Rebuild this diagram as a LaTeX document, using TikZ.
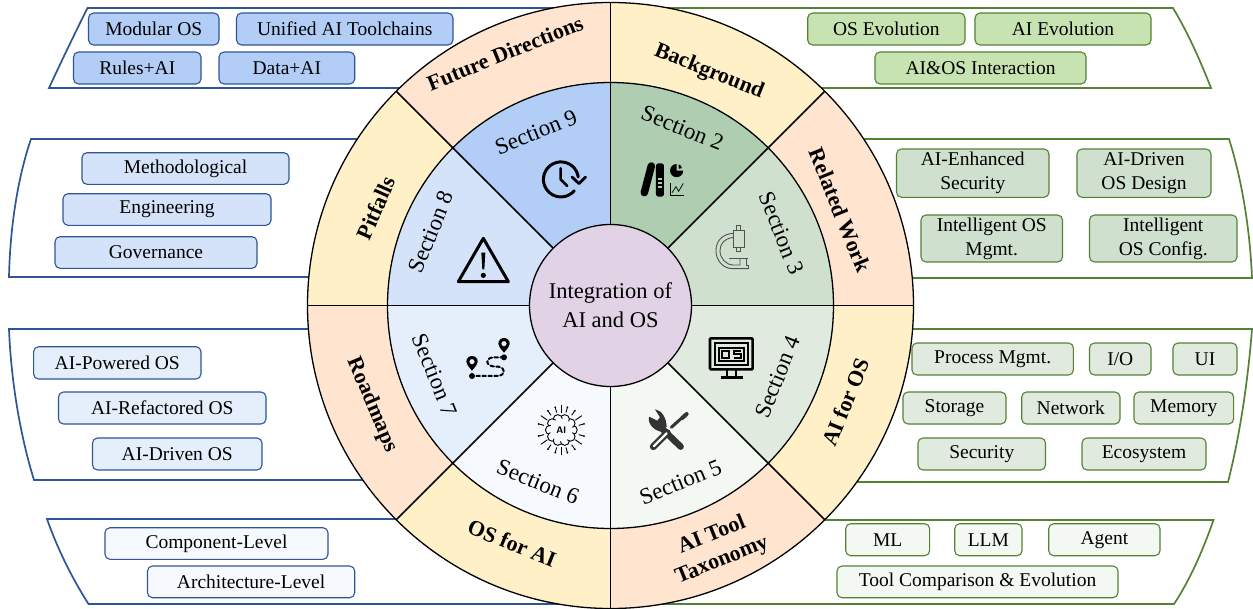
\documentclass[tikz,border=0pt]{standalone}
\usepackage{fontspec}
\setmainfont{Liberation Serif}
\usetikzlibrary{calc}
\definecolor{pb}{HTML}{2F5597}
\definecolor{pg}{HTML}{548235}
\definecolor{peach}{HTML}{FFE5CF}
\definecolor{butter}{HTML}{FFF0C8}
\definecolor{hub}{HTML}{E2D2E6}
\definecolor{bA}{HTML}{B2CEF6}
\definecolor{bB}{HTML}{D5E3FA}
\definecolor{bC}{HTML}{E5EFFC}
\definecolor{bD}{HTML}{F6FAFE}
\definecolor{gS}{HTML}{AFCDB0}
\definecolor{gA}{HTML}{C8E3B2}
\definecolor{gB}{HTML}{D0E0CF}
\definecolor{gC}{HTML}{E1EADF}
\definecolor{gD}{HTML}{F3F8F3}
\definecolor{icon}{HTML}{333333}
\tikzset{
  panelB/.style={draw=pb,fill=white,line width=1.7pt,line join=miter},
  panelG/.style={draw=pg,fill=white,line width=1.7pt,line join=miter},
  itemB/.style={draw=pb,rounded corners=5pt,line width=1.1pt,inner sep=0pt,align=center,text=black,font=\fontsize{19.5}{24}\selectfont},
  itemG/.style={draw=pg,rounded corners=5pt,line width=1.1pt,inner sep=0pt,align=center,text=black,font=\fontsize{19.5}{24}\selectfont},
  sec/.style={inner sep=0pt,font=\fontsize{23}{26}\selectfont},
  ring/.style={inner sep=0pt,align=center,font=\fontsize{22}{27}\selectfont\bfseries},
  spoke/.style={draw=black,line width=1.5pt},
  rim/.style={draw=black,line width=1.3pt},
  ic/.style={draw=black,line width=3pt,line cap=round,line join=round},
}
\newcommand{\bx}[7]{%
  \pgfmathsetmacro\bxw{#5-#3}\pgfmathsetmacro\bxh{#6-#4}%
  \node[#1,minimum width=\bxw pt,minimum height=\bxh pt] (#2) at ({(#3+#5)/2},{(#4+#6)/2}) {#7};}
\newcommand{\wedgefill}[4]{% colour, from angle, to angle, radius
  \fill[#1] (c) -- ++(#2:#4pt) arc[start angle=#2,end angle=#3,radius=#4pt] -- cycle;}
\begin{document}
\begin{tikzpicture}[x=1pt,y=-1pt]
\useasboundingbox (0,0) rectangle (1253,608);
\coordinate (c) at (610.5,305.5);
% panels
\draw[panelB] (610,8) -- (87.5,8) .. controls (75,33) and (62,60) .. (49,88) -- (610,88) -- cycle;
\draw[panelB] (610,139) -- (31,139) .. controls (17,180) and (10,230) .. (9,277) -- (610,277) -- cycle;
\draw[panelB] (610,329) -- (9,329) .. controls (11,380) and (20,435) .. (34,480) -- (610,480) -- cycle;
\draw[panelB] (610,519) -- (47,519) .. controls (58,550) and (72,578) .. (88.5,604) -- (610,604) -- cycle;
\draw[panelG] (610,8) -- (1173,8) .. controls (1188,33) and (1200,60) .. (1211,88) -- (610,88) -- cycle;
\draw[panelG] (610,139) -- (1229,139) .. controls (1242,180) and (1250,230) .. (1252,278) -- (610,278) -- cycle;
\draw[panelG] (610,329) -- (1252,329) .. controls (1248,380) and (1240,435) .. (1228,482) -- (610,482) -- cycle;
\draw[panelG] (610,520) -- (1213.5,520) .. controls (1203,550) and (1190,580) .. (1174,604) -- (610,604) -- cycle;
% wheel
\wedgefill{butter}{45}{90}{303}
\wedgefill{peach}{0}{45}{303}
\wedgefill{butter}{-45}{0}{303}
\wedgefill{peach}{-90}{-45}{303}
\wedgefill{butter}{-135}{-90}{303}
\wedgefill{peach}{-180}{-135}{303}
\wedgefill{butter}{135}{180}{303}
\wedgefill{peach}{90}{135}{303}
\wedgefill{gS}{45}{90}{223}
\wedgefill{gB}{0}{45}{223}
\wedgefill{gC}{-45}{0}{223}
\wedgefill{gD}{-90}{-45}{223}
\wedgefill{bD}{-135}{-90}{223}
\wedgefill{bC}{-180}{-135}{223}
\wedgefill{bB}{135}{180}{223}
\wedgefill{bA}{90}{135}{223}
\foreach \a in {0,45,...,315} {\draw[spoke] (c) -- ++(\a:303pt);}
\draw[rim] (c) circle[radius=303pt];
\draw[rim] (c) circle[radius=223pt];
\node[circle,draw=black,line width=1.3pt,fill=hub,minimum size=162pt,inner sep=0pt,align=center,font=\fontsize{22.5}{29}\selectfont] (hubnode) at (c) {Integration of\\AI and OS};
% ring labels
\node[ring,rotate=22] (lf) at (505,53) {Future Directions};
\node[ring,rotate=-22] (lb) at (709,72) {Background};
\node[ring,rotate=-68] (lr) at (840,210) {Related Work};
\node[ring,rotate=66] (lp) at (376,208) {Pitfalls};
\node[ring,rotate=-67] (lm) at (372,405) {Roadmaps};
\node[ring,rotate=-22] (lo) at (512,543) {OS for AI};
\node[ring,rotate=22] (lt) at (717,548) {AI Tool\\Taxonomy};
\node[ring,rotate=68] (la) at (846,402) {AI for OS};
% section labels
\node[sec,rotate=22] (s9) at (536,132) {Section 9};
\node[sec,rotate=-22] (s2) at (682.5,128) {Section 2};
\node[sec,rotate=-68] (s3) at (781.5,233) {Section 3};
\node[sec,rotate=68] (s8) at (431,232) {Section 8};
\node[sec,rotate=-68] (s7) at (435,375) {Section 7};
\node[sec,rotate=-22] (s6) at (538,482) {Section 6};
\node[sec,rotate=22] (s5) at (680.5,482) {Section 5};
\node[sec,rotate=68] (s4) at (777.5,377) {Section 4};
% items, upper left
\bx{itemB,fill=bA}{i1}{88.5}{13}{219}{45}{Modular OS}
\bx{itemB,fill=bA}{i2}{236.5}{13}{453}{45}{Unified AI Toolchains}
\bx{itemB,fill=bA}{i3}{73.5}{52}{201}{84}{Rules+AI}
\bx{itemB,fill=bA}{i4}{219}{52}{354.7}{84}{Data+AI}
\bx{itemB,fill=bB}{i5}{82}{152.7}{289}{184.3}{Methodological}
\bx{itemB,fill=bB}{i6}{63}{193.7}{271}{225.3}{Engineering}
\bx{itemB,fill=bB}{i7}{55}{236.7}{257}{268.3}{Governance}
\bx{itemB,fill=bC}{i8}{33.6}{346.7}{201}{379}{AI-Powered OS}
\bx{itemB,fill=bC}{i9}{58.5}{392}{266}{424}{AI-Refactored OS}
\bx{itemB,fill=bC}{i10}{92.5}{438}{262}{470}{AI-Driven OS}
\bx{itemB,fill=bD}{i11}{105}{527.7}{328}{559.3}{Component-Level}
\bx{itemB,fill=bD}{i12}{147.5}{566}{354.7}{597.7}{Architecture-Level}
% items, right
\bx{itemG,fill=gA}{j1}{807.7}{13}{965}{45}{OS Evolution}
\bx{itemG,fill=gA}{j2}{975}{13}{1151}{45}{AI Evolution}
\bx{itemG,fill=gA}{j3}{875}{52}{1086}{84}{AI\&OS Interaction}
\bx{itemG,fill=gB}{j4}{896.5}{149}{1049}{197.3}{AI-Enhanced\\Security}
\bx{itemG,fill=gB}{j5}{1077}{149}{1211}{197.3}{AI-Driven\\OS Design}
\bx{itemG,fill=gB}{j6}{921}{215}{1062.5}{262}{Intelligent OS\\Mgmt.}
\bx{itemG,fill=gB}{j7}{1089.5}{215}{1237}{262}{Intelligent\\OS Config.}
\bx{itemG,fill=gC}{j8}{912}{343}{1073.4}{375}{Process Mgmt.}
\bx{itemG,fill=gC}{j9}{1089.5}{343}{1151}{375}{I/O}
\bx{itemG,fill=gC}{j10}{1173}{343}{1237}{375}{UI}
\bx{itemG,fill=gC}{j11}{903}{392}{1006}{424}{Storage}
\bx{itemG,fill=gC}{j12}{1021.7}{392}{1120}{424}{Network}
\bx{itemG,fill=gC}{j13}{1134}{392}{1233.6}{424}{Memory}
\bx{itemG,fill=gC}{j14}{918}{438}{1045.5}{470}{Security}
\bx{itemG,fill=gC}{j15}{1082}{438}{1206}{470}{Ecosystem}
\bx{itemG,fill=gD}{j16}{845.7}{523.7}{929.6}{555.7}{ML}
\bx{itemG,fill=gD}{j17}{954.7}{523.7}{1022}{555.7}{LLM}
\bx{itemG,fill=gD}{j18}{1048.7}{523.7}{1160}{555.7}{Agent}
\bx{itemG,fill=gD}{j19}{837}{566}{1118}{597.7}{Tool Comparison \& Evolution}
% icons: upper group, coordinates of a 3x crop at (440,130)
\begin{scope}[shift={(440,130)},x=0.3333pt,y=-0.3333pt]
 % clock
 \draw[ic] (403,182) arc[start angle=-40,end angle=-352,radius=17.5pt];
 \draw[ic,line width=2.6pt] (362,115) -- (362,148) -- (382,168);
 \draw[ic,line width=2.8pt] (396,141) -- (417,161) -- (437,141);
 % books
 \draw[black,line width=7.5pt,line cap=round] (634,108) -- (613,188);
 \fill[black,rounded corners=2.5pt] (648,100) rectangle (672,200);
 \foreach \y in {143,155,167} {\fill[gS] (654,\y) rectangle (666,\y+6);}
 \fill[black] (710,122) -- ++(20:0pt) -- (710,102) arc[start angle=90,end angle=360,radius=6.6pt] -- cycle;
 \fill[black] (716,116) -- (716,103) arc[start angle=75,end angle=5,radius=4.4pt] -- cycle;
 \draw[black,line width=0.7pt] (690,160) -- (690,196) -- (732,196);
 \draw[black,line width=0.7pt] (696,188) -- (708,170) -- (716,184) -- (730,160);
 % microscope
 \begin{scope}[draw=icon!85,line width=0.9pt]
  \draw (880,300) rectangle (912,352);
  \draw (888,287) rectangle (902,300);
  \draw (888,352) rectangle (902,365);
  \draw (880,310) .. controls (845,312) and (828,335) .. (828,362) .. controls (828,392) and (850,416) .. (878,416) -- (925,416);
  \draw (880,322) .. controls (852,326) and (840,343) .. (840,362) .. controls (840,385) and (858,405) .. (880,405) -- (900,405) -- (900,385);
  \draw (868,385) -- (925,385) (918,385) -- (918,405) -- (925,405) -- (925,416);
 \end{scope}
 % warning
 \draw[ic] (130,325) -- (55,455) -- (205,455) -- cycle;
 \fill[black] (124,368) -- (136,368) -- (133,418) -- (127,418) -- cycle;
 \fill[black] (130,436) circle[radius=2.6pt];
\end{scope}
% icons: lower group, coordinates of a 3x crop at (440,320)
\begin{scope}[shift={(440,320)},x=0.3333pt,y=-0.3333pt]
 % route
 \draw[black,line width=2pt,dash pattern=on 3.6pt off 2.4pt,line cap=round] (192,112) -- (160,112) .. controls (135,114) and (135,138) .. (165,140) -- (175,140) .. controls (198,144) and (198,166) .. (172,168) -- (96,168);
 \fill[black] (192,112) circle[radius=3pt];
 \fill[black] (96,168) circle[radius=3pt];
 \fill[black,even odd rule] (192,98) .. controls (180,84) and (175,78) .. (175,71) arc[start angle=180,end angle=0,radius=5.7pt] .. controls (209,78) and (204,84) .. (192,98) -- cycle (192,71) circle[radius=2.7pt];
 \fill[black,even odd rule] (96,152) .. controls (84,138) and (79,132) .. (79,125) arc[start angle=180,end angle=0,radius=5.7pt] .. controls (113,132) and (108,138) .. (96,152) -- cycle (96,125) circle[radius=2.7pt];
 % monitor
 \draw[black,line width=2.6pt,rounded corners=1pt] (810,55) rectangle (938,148);
 \draw[black,line width=1.7pt] (825,68) rectangle (925,135);
 \draw[black,line width=2pt] (838,85) rectangle (912,122);
 \draw[black,line width=1.9pt] (847,92) rectangle (866,115);
 \draw[black,line width=1.9pt] (902,92) -- (883,92) -- (883,103) -- (902,103) -- (902,115) -- (883,115);
 \draw[black,line width=2pt] (860,148) -- (860,172) (888,148) -- (888,172);
 \draw[black,line width=2.4pt] (842,172) -- (908,172);
 % tools
 \draw[icon,line width=6.5pt,line cap=round] (662,322) -- (722,380);
 \fill[icon] (645,268) -- (660,292) -- (652,302) -- (628,290) .. controls (620,305) and (640,335) .. (668,335) -- (680,320) .. controls (680,295) and (665,270) .. (645,268) -- cycle;
 \draw[icon,line width=3pt,line cap=round] (732,288) -- (694,322);
 \draw[icon,line width=4pt,line cap=round] (740,282) -- (727,294);
 \draw[icon,line width=7pt,line cap=round] (682,338) -- (640,380);
 \draw[white,line width=2.4pt,line cap=round] (680,340) -- (642,378);
 % AI chip brain
 \foreach \a in {0,36,...,324} {\draw[black,line width=0.9pt,fill=bD] ($(364,330)+(\a:11.3pt)$) circle[radius=4.6pt];}
 \fill[bD] (364,330) circle[radius=11.4pt];
 \node[inner sep=0pt,font=\fontsize{9.5}{10}\selectfont\bfseries\sffamily] (aimark) at (364,330) {AI};
 \foreach \a in {15,55,75,105,125,165,195,235,255,285,305,345}
  {\draw[black,line width=0.9pt] ($(364,330)+(\a:18pt)$) -- ($(364,330)+(\a:23pt)$);
   \fill[black] ($(364,330)+(\a:23.5pt)$) circle[radius=1pt];}
 \foreach \a in {35,90,145,215,270,325}
  {\draw[black,line width=0.9pt] ($(364,330)+(\a:17pt)$) -- ($(364,330)+(\a:25pt)$);}
\end{scope}
\end{tikzpicture}
\end{document}
